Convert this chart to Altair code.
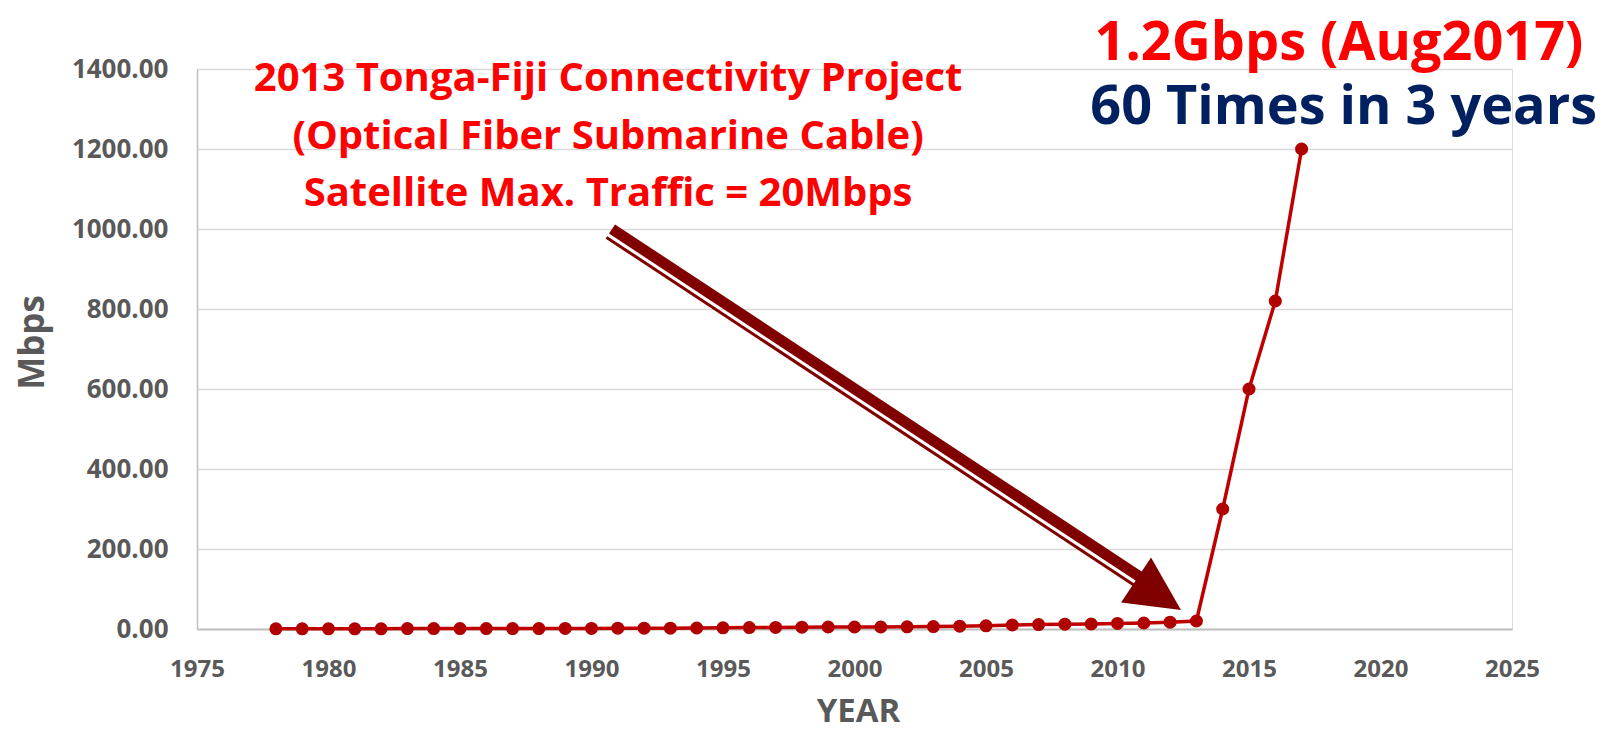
import altair as alt
import pandas as pd

# ---- data ----
years = list(range(1978, 2018))
mbps = [0.5, 0.5, 0.5, 0.5, 0.5, 1, 1, 1, 1, 1,
        1, 1.5, 1.5, 2, 2, 2, 2.5, 3, 3.5, 4,
        4.5, 5, 5, 5, 5.5, 6, 7, 8, 10, 11,
        12, 12.5, 14, 15, 17, 20, 300, 600, 820, 1200]

x_ticks = [1975, 1980, 1985, 1990, 1995, 2000, 2005, 2010, 2015, 2020, 2025]
y_ticks = [0, 200, 400, 600, 800, 1000, 1200, 1400]

project_lines = ["2013 Tonga-Fiji Connectivity Project",
                 "(Optical Fiber Submarine Cable)",
                 "Satellite Max. Traffic = 20Mbps"]
headline_1 = "1.2Gbps (Aug2017)"
headline_2 = "60 Times in 3 years"

# annotation anchors (data units: year, Mbps)
project_anchor = [1990.63, 1345]
head1_anchor = [2018.42, 1422]
head2_anchor = [2018.6, 1262]
arrow_thick = [[1990.78, 1000], [2010.86, 130]]
arrow_thin = [[1990.57, 979], [2010.65, 109]]
arrow_head = [2011.56, 85]

df = pd.DataFrame({"year": years, "mbps": mbps})

FONT = "Open Sans"
GREY = "#595959"

xs = alt.Scale(domain=[1975, 2025], nice=False, zero=False)
ys = alt.Scale(domain=[0, 1400], nice=False)

x_enc = alt.X("year:Q", scale=xs,
              axis=alt.Axis(values=x_ticks, format="d", title="YEAR",
                            grid=False, ticks=False, tickSize=0,
                            domainColor="#bfbfbf", domainWidth=2,
                            labelFont=FONT, labelFontSize=24, labelFontWeight="bold",
                            labelColor=GREY, labelPadding=40, labelBaseline="middle",
                            labelFlush=False,
                            titleFont=FONT, titleFontSize=33, titleFontWeight="bold",
                            titleColor=GREY, titleBaseline="alphabetic",
                            titleX=661, titleY=92))
y_enc = alt.Y("mbps:Q", scale=ys,
              axis=alt.Axis(values=y_ticks, format=".2f", title="Mbps",
                            grid=True, gridColor="#d9d9d9", gridWidth=1.5,
                            ticks=False, tickSize=0,
                            domainColor="#bfbfbf", domainWidth=1.5,
                            labelFont=FONT, labelFontSize=26, labelFontWeight="bold",
                            labelColor=GREY, labelPadding=29,
                            titleFont=FONT, titleFontSize=35, titleFontWeight="bold",
                            titleColor=GREY, titleAngle=-90, titleBaseline="middle",
                            titleAlign="center", titleX=-165, titleY=273))

base = alt.Chart(df)
line = base.mark_line(color="#C00000", strokeWidth=3.5).encode(x=x_enc, y=y_enc)
pts = base.mark_point(filled=True, color="#B00000", size=170, opacity=1).encode(
    x="year:Q", y="mbps:Q")


def seg(coords, width):
    d = pd.DataFrame({"x": [coords[0][0]], "y": [coords[0][1]],
                      "x2": [coords[1][0]], "y2": [coords[1][1]]})
    return alt.Chart(d).mark_rule(color="#800000", strokeWidth=width).encode(
        x="x:Q", y="y:Q", x2="x2:Q", y2="y2:Q")


thick = seg(arrow_thick, 11)
thin = seg(arrow_thin, 3)

head_df = pd.DataFrame({"x": [arrow_head[0]], "y": [arrow_head[1]]})
head = alt.Chart(head_df).mark_point(
    shape="M0,-1L1,1L-1,1Z", filled=True, color="#800000", opacity=1,
    size=2916, angle=123.7).encode(x="x:Q", y="y:Q")

proj_df = pd.DataFrame({"x": [project_anchor[0]], "y": [project_anchor[1]],
                        "t": [project_lines]})
proj = alt.Chart(proj_df).mark_text(
    font=FONT, fontSize=40, fontWeight="bold", color="#FF0000",
    align="center", baseline="alphabetic", lineHeight=57.6).encode(
    x="x:Q", y="y:Q", text="t")

h1_df = pd.DataFrame({"x": [head1_anchor[0]], "y": [head1_anchor[1]], "t": [headline_1]})
h1 = alt.Chart(h1_df).mark_text(
    font=FONT, fontSize=54, fontWeight="bold", color="#FF0000",
    align="center", baseline="alphabetic").encode(x="x:Q", y="y:Q", text="t:N")

h2_df = pd.DataFrame({"x": [head2_anchor[0]], "y": [head2_anchor[1]], "t": [headline_2]})
h2 = alt.Chart(h2_df).mark_text(
    font=FONT, fontSize=54, fontWeight="bold", color="#002060",
    align="center", baseline="alphabetic").encode(x="x:Q", y="y:Q", text="t:N")

chart = alt.layer(line, pts, thin, thick, head, proj, h1, h2).properties(
    width=1315, height=560,
    autosize=alt.AutoSizeParams(type="none"),
    padding={"left": 189, "top": 61, "right": 90, "bottom": 94},
).configure_view(stroke=None).configure(background="white")

chart.save("out.html", embed_options={"renderer": "svg", "actions": False})
